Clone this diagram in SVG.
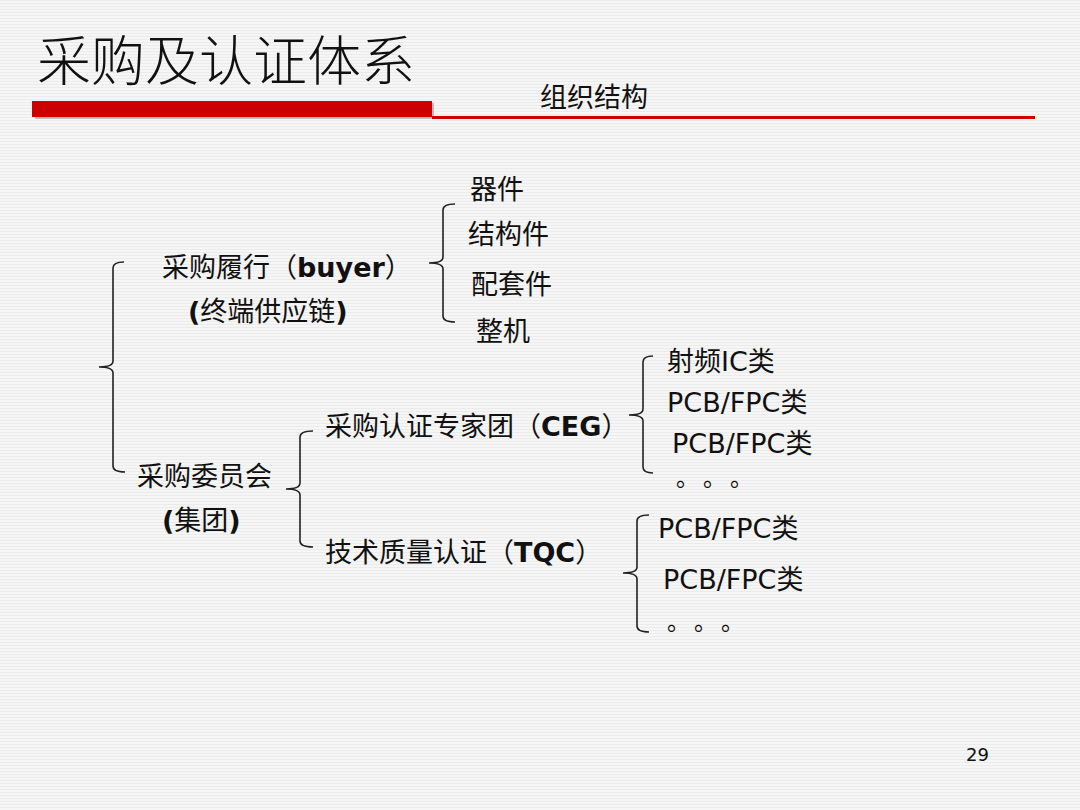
<svg xmlns="http://www.w3.org/2000/svg" width="1080" height="810" viewBox="0 0 1080 810">
<defs>
<pattern id="stripes" width="8" height="3" patternUnits="userSpaceOnUse">
<rect width="8" height="3" fill="#f6f6f6"/>
<rect width="8" height="1" fill="#ebebeb"/>
</pattern>
<style>
.t{font-family:"DejaVu Sans","Noto Sans CJK SC",sans-serif;font-size:27px;fill:#111}
.cjk{font-family:"Noto Sans CJK SC",sans-serif;font-size:27px;fill:#111}
.dots{font-family:"Noto Sans CJK SC",sans-serif;font-size:23px;fill:#111}
.b{font-weight:bold}
.title{font-family:"Noto Sans CJK SC",sans-serif;font-size:54px;font-weight:300;fill:#111}
.br{fill:none;stroke:#222;stroke-width:1.6}
</style>
</defs>
<rect width="1080" height="810" fill="url(#stripes)"/>

<g id="header">
<text class="title" x="37" y="81">采购及认证体系</text>
<rect x="35" y="103" width="399" height="16" fill="#888" opacity="0.5"/>
<rect x="32" y="101" width="400" height="16" fill="#cc0000"/>
<rect x="432" y="116" width="603" height="3" fill="#cc0000"/>
<text class="cjk" x="540" y="107">组织结构</text>
</g>

<g id="connectors">
<path class="br" d="M124,262 Q113,262 113,268 L113,361 Q113,367 99,367 Q113,367 113,373 L113,466 Q113,472 125,472"/>
<path class="br" d="M455,204 Q443,204 443,210 L443,257 Q443,263 429,263 Q443,263 443,269 L443,316 Q443,322 455,322"/>
<path class="br" d="M313,431 Q300,431 300,437 L300,483 Q300,489 286,489 Q300,489 300,495 L300,541 Q300,547 313,547"/>
<path class="br" d="M653,356 Q643,356 643,362 L643,409 Q643,415 629,415 Q643,415 643,421 L643,467 Q643,473 653,473"/>
<path class="br" d="M649,515 Q637,515 637,521 L637,567 Q637,573 623,573 Q637,573 637,579 L637,626 Q637,632 649,632"/>
</g>

<g id="node-buyer">
<text class="t" x="162" y="277">采购履行（<tspan class="b">buyer</tspan>）</text>
<text class="t" x="188" y="321"><tspan class="b">(</tspan>终端供应链<tspan class="b">)</tspan></text>
</g>
<g id="node-qijian"><text class="cjk" x="470" y="199">器件</text></g>
<g id="node-jiegoujian"><text class="cjk" x="468" y="244">结构件</text></g>
<g id="node-peitaojian"><text class="cjk" x="471" y="294">配套件</text></g>
<g id="node-zhengji"><text class="cjk" x="476" y="341">整机</text></g>

<g id="node-committee">
<text class="t" x="137" y="486">采购委员会</text>
<text class="t" x="162" y="530"><tspan class="b">(</tspan>集团<tspan class="b">)</tspan></text>
</g>

<g id="node-ceg"><text class="t" x="325" y="436">采购认证专家团（<tspan class="b">CEG</tspan>）</text></g>
<g id="node-tqc"><text class="t" x="325" y="562">技术质量认证（<tspan class="b">TQC</tspan>）</text></g>

<g id="node-ceg-rfic"><text class="t" x="667" y="371">射频IC类</text></g>
<g id="node-ceg-pcb1"><text class="t" x="667" y="412">PCB/FPC类</text></g>
<g id="node-ceg-pcb2"><text class="t" x="672" y="453">PCB/FPC类</text></g>
<g id="node-ceg-more"><text class="dots" x="676 703 730" y="485.5">。。。</text></g>

<g id="node-tqc-pcb1"><text class="t" x="658" y="538">PCB/FPC类</text></g>
<g id="node-tqc-pcb2"><text class="t" x="663" y="589">PCB/FPC类</text></g>
<g id="node-tqc-more"><text class="dots" x="667 694 721" y="629.5">。。。</text></g>

<g id="page-number"><text x="966" y="761" style="font-family:'DejaVu Sans',sans-serif;font-size:18px;fill:#111">29</text></g>
</svg>
